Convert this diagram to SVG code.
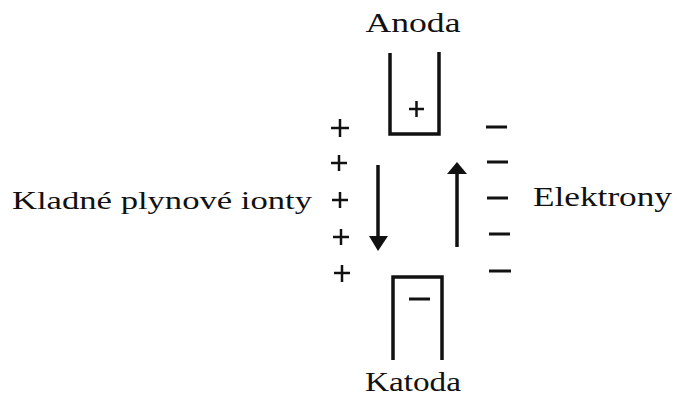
<svg xmlns="http://www.w3.org/2000/svg" width="677" height="403" viewBox="0 0 677 403">
<style>
.t{font-family:"Liberation Serif","DejaVu Serif",serif;font-size:28px;fill:#111}
.e{fill:none;stroke:#111;stroke-width:3.5}
.s{stroke:#111;stroke-width:2.5;fill:none}
.a{stroke:#111;stroke-width:3.5}
</style>
<g id="anoda">
<path class="e" d="M390,53 L390,134 L439,134 L439,52"/>
<path class="s" d="M409,109 L424,109 M416.5,101 L416.5,117"/>
<text class="t" x="413" y="32" text-anchor="middle" textLength="95" lengthAdjust="spacingAndGlyphs">Anoda</text>
</g>
<g id="katoda">
<path class="e" d="M393,360 L393,277 L442,277 L442,360"/>
<path class="s" d="M409,299 L430,299" style="stroke-width:3"/>
<text class="t" x="413" y="391" text-anchor="middle" textLength="96" lengthAdjust="spacingAndGlyphs">Katoda</text>
</g>
<g id="ionty">
<path class="s" d="M331,128 L349,128 M340,119 L340,137 M331,163 L347,163 M339,155 L339,171 M332,200 L348,200 M340,192 L340,208 M333,237 L349,237 M341,229 L341,245 M334,273 L350,273 M342,265 L342,282"/>
<text class="t" x="12" y="209" style="font-size:26px" textLength="300" lengthAdjust="spacingAndGlyphs">Kladné plynové ionty</text>
</g>
<g id="elektrony">
<path class="s" d="M486,127 L507,127 M487,162 L508,162 M487,198 L508,198 M489,234 L510,234 M489,271 L511,271" style="stroke-width:3"/>
<text class="t" x="533" y="206" textLength="139" lengthAdjust="spacingAndGlyphs">Elektrony</text>
</g>
<g id="connectors">
<line class="a" x1="378" y1="165" x2="378" y2="238"/>
<path d="M369,236 L388,236 L378,251 Z" fill="#111"/>
<line class="a" x1="457" y1="247" x2="457" y2="174"/>
<path d="M447,174 L467,174 L457,162 Z" fill="#111"/>
</g>
</svg>
